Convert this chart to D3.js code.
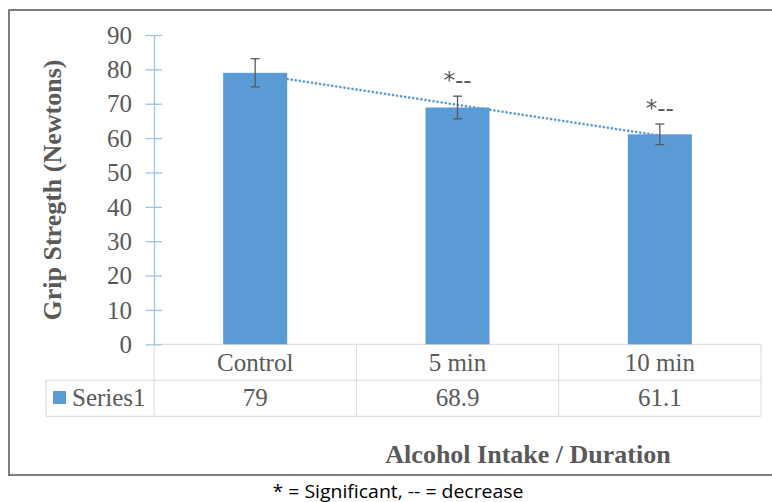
<!DOCTYPE html>
<html>
<head>
<meta charset="utf-8">
<script src="https://cdn.jsdelivr.net/npm/d3@7"></script>
<style>
  body { margin: 0; background: #fff; }
  svg { display: block; }
  text { font-family: "Liberation Serif", "Times New Roman", serif; }
</style>
</head>
<body>
<svg id="chart" width="772" height="502"></svg>
<script>
const categories = ['Control', '5 min', '10 min'];
const values = [79, 68.9, 61.1];
const errors = [4.1, 3.3, 3.0];
const marks = ['', '*--', '*--'];
const yTicks = [0, 10, 20, 30, 40, 50, 60, 70, 80, 90];
const seriesName = 'Series1';

const blue = '#5b9bd5';
const grey = '#595959';
const grid = '#d9d9d9';
const serif = '"Liberation Serif", "Times New Roman", serif';

const svg = d3.select('#chart');

// outer frame (right edge runs off the page)
svg.append('path')
  .attr('d', 'M9,476 L9,10 L780,10 M9,475 L780,475')
  .attr('fill', 'none')
  .attr('stroke', '#555')
  .attr('stroke-width', 1.5);

const x = d3.scaleBand().domain(categories).range([154, 761]).paddingInner(0).paddingOuter(0);
const y = d3.scaleLinear().domain([0, 90]).range([344.3, 35]);
const barW = 64;
const cx = i => x(categories[i]) + x.bandwidth() / 2;

// table grid
const tTop = 344.3, tMid = 380.3, tBot = 416.3, tLeft = 46;
const g = svg.append('g').attr('stroke', grid);
g.append('line').attr('x1', 154).attr('x2', 761).attr('y1', tTop).attr('y2', tTop);
g.append('line').attr('x1', tLeft).attr('x2', 761).attr('y1', tMid).attr('y2', tMid);
g.append('line').attr('x1', tLeft).attr('x2', 761).attr('y1', tBot).attr('y2', tBot);
g.append('line').attr('x1', tLeft).attr('x2', tLeft).attr('y1', tMid).attr('y2', tBot);
g.selectAll('.col').data(categories).enter().append('line')
  .attr('x1', d => x(d) + x.bandwidth()).attr('x2', d => x(d) + x.bandwidth())
  .attr('y1', tTop).attr('y2', tBot);
g.append('line').attr('x1', 154).attr('x2', 154).attr('y1', tTop).attr('y2', tBot);

// y axis
const yAxis = svg.append('g')
  .attr('transform', 'translate(154,0)')
  .attr('font-family', null)
  .call(d3.axisLeft(y).tickValues(yTicks).tickSize(0).tickPadding(22));
yAxis.attr('font-family', serif).attr('font-size', 25);
yAxis.select('.domain').attr('stroke', '#9dc3e6').attr('stroke-width', 1.3);
yAxis.selectAll('.tick line').attr('x1', -8.5).attr('x2', 8).attr('stroke', '#9dc3e6').attr('stroke-width', 1.3);
yAxis.selectAll('.tick text').attr('fill', grey).attr('dy', '0.33em');

// bars
svg.selectAll('.bar').data(values).enter().append('rect')
  .attr('x', (d, i) => cx(i) - barW / 2)
  .attr('width', barW)
  .attr('y', d => y(d))
  .attr('height', d => y(0) - y(d))
  .attr('fill', blue);

// linear trendline
const n = values.length;
const mx = d3.mean(values, (d, i) => i + 1);
const my = d3.mean(values);
const slope = d3.sum(values, (d, i) => (i + 1 - mx) * (d - my)) / d3.sum(values, (d, i) => (i + 1 - mx) ** 2);
const icpt = my - slope * mx;
svg.append('line')
  .attr('x1', cx(0)).attr('y1', y(icpt + slope))
  .attr('x2', cx(n - 1)).attr('y2', y(icpt + slope * n))
  .attr('stroke', blue)
  .attr('stroke-width', 2.6)
  .attr('stroke-linecap', 'round')
  .attr('stroke-dasharray', '0.1,4');

// error bars
const eb = svg.selectAll('.err').data(values).enter().append('g').attr('stroke', grey).attr('stroke-width', 1.3);
eb.append('line').attr('x1', (d, i) => cx(i)).attr('x2', (d, i) => cx(i))
  .attr('y1', (d, i) => y(d + errors[i])).attr('y2', (d, i) => y(d - errors[i]));
eb.append('line').attr('x1', (d, i) => cx(i) - 4.5).attr('x2', (d, i) => cx(i) + 4.5)
  .attr('y1', (d, i) => y(d + errors[i])).attr('y2', (d, i) => y(d + errors[i]));
eb.append('line').attr('x1', (d, i) => cx(i) - 4.5).attr('x2', (d, i) => cx(i) + 4.5)
  .attr('y1', (d, i) => y(d - errors[i])).attr('y2', (d, i) => y(d - errors[i]));

// significance marks
svg.selectAll('.mark').data(values).enter().append('text')
  .attr('x', (d, i) => cx(i))
  .attr('y', (d, i) => y(d + errors[i]) - 8)
  .attr('text-anchor', 'middle')
  .attr('fill', grey)
  .style('font-size', '23px')
  .style('font-family', '"DejaVu Sans", sans-serif')
  .text((d, i) => marks[i]);

// table text
svg.selectAll('.cat').data(categories).enter().append('text')
  .attr('x', (d, i) => cx(i)).attr('y', 371)
  .attr('text-anchor', 'middle').attr('fill', grey)
  .style('font-size', '25px')
  .text(d => d);
svg.selectAll('.val').data(values).enter().append('text')
  .attr('x', (d, i) => cx(i)).attr('y', 406)
  .attr('text-anchor', 'middle').attr('fill', grey)
  .style('font-size', '25px')
  .text(d => d);
svg.append('rect').attr('x', 53).attr('y', 391).attr('width', 13).attr('height', 13).attr('fill', blue);
svg.append('text').attr('x', 72).attr('y', 406).attr('fill', grey)
  .style('font-size', '25px').text(seriesName);

// axis titles
svg.append('text')
  .attr('transform', 'translate(61,190) rotate(-90)')
  .attr('text-anchor', 'middle').attr('fill', grey)
  .style('font-size', '26px').style('font-weight', 'bold')
  .text('Grip Stregth (Newtons)');
svg.append('text')
  .attr('x', 528).attr('y', 463)
  .attr('text-anchor', 'middle').attr('fill', grey)
  .style('font-size', '26px').style('font-weight', 'bold')
  .text('Alcohol Intake / Duration');

// caption
svg.append('text')
  .attr('x', 398).attr('y', 498)
  .attr('text-anchor', 'middle').attr('fill', '#000')
  .attr('textLength', 251).attr('lengthAdjust', 'spacingAndGlyphs')
  .style('font-size', '18px')
  .style('font-family', '"Open Sans", "Noto Sans", sans-serif')
  .text('* = Significant, -- = decrease');
</script>
</body>
</html>
